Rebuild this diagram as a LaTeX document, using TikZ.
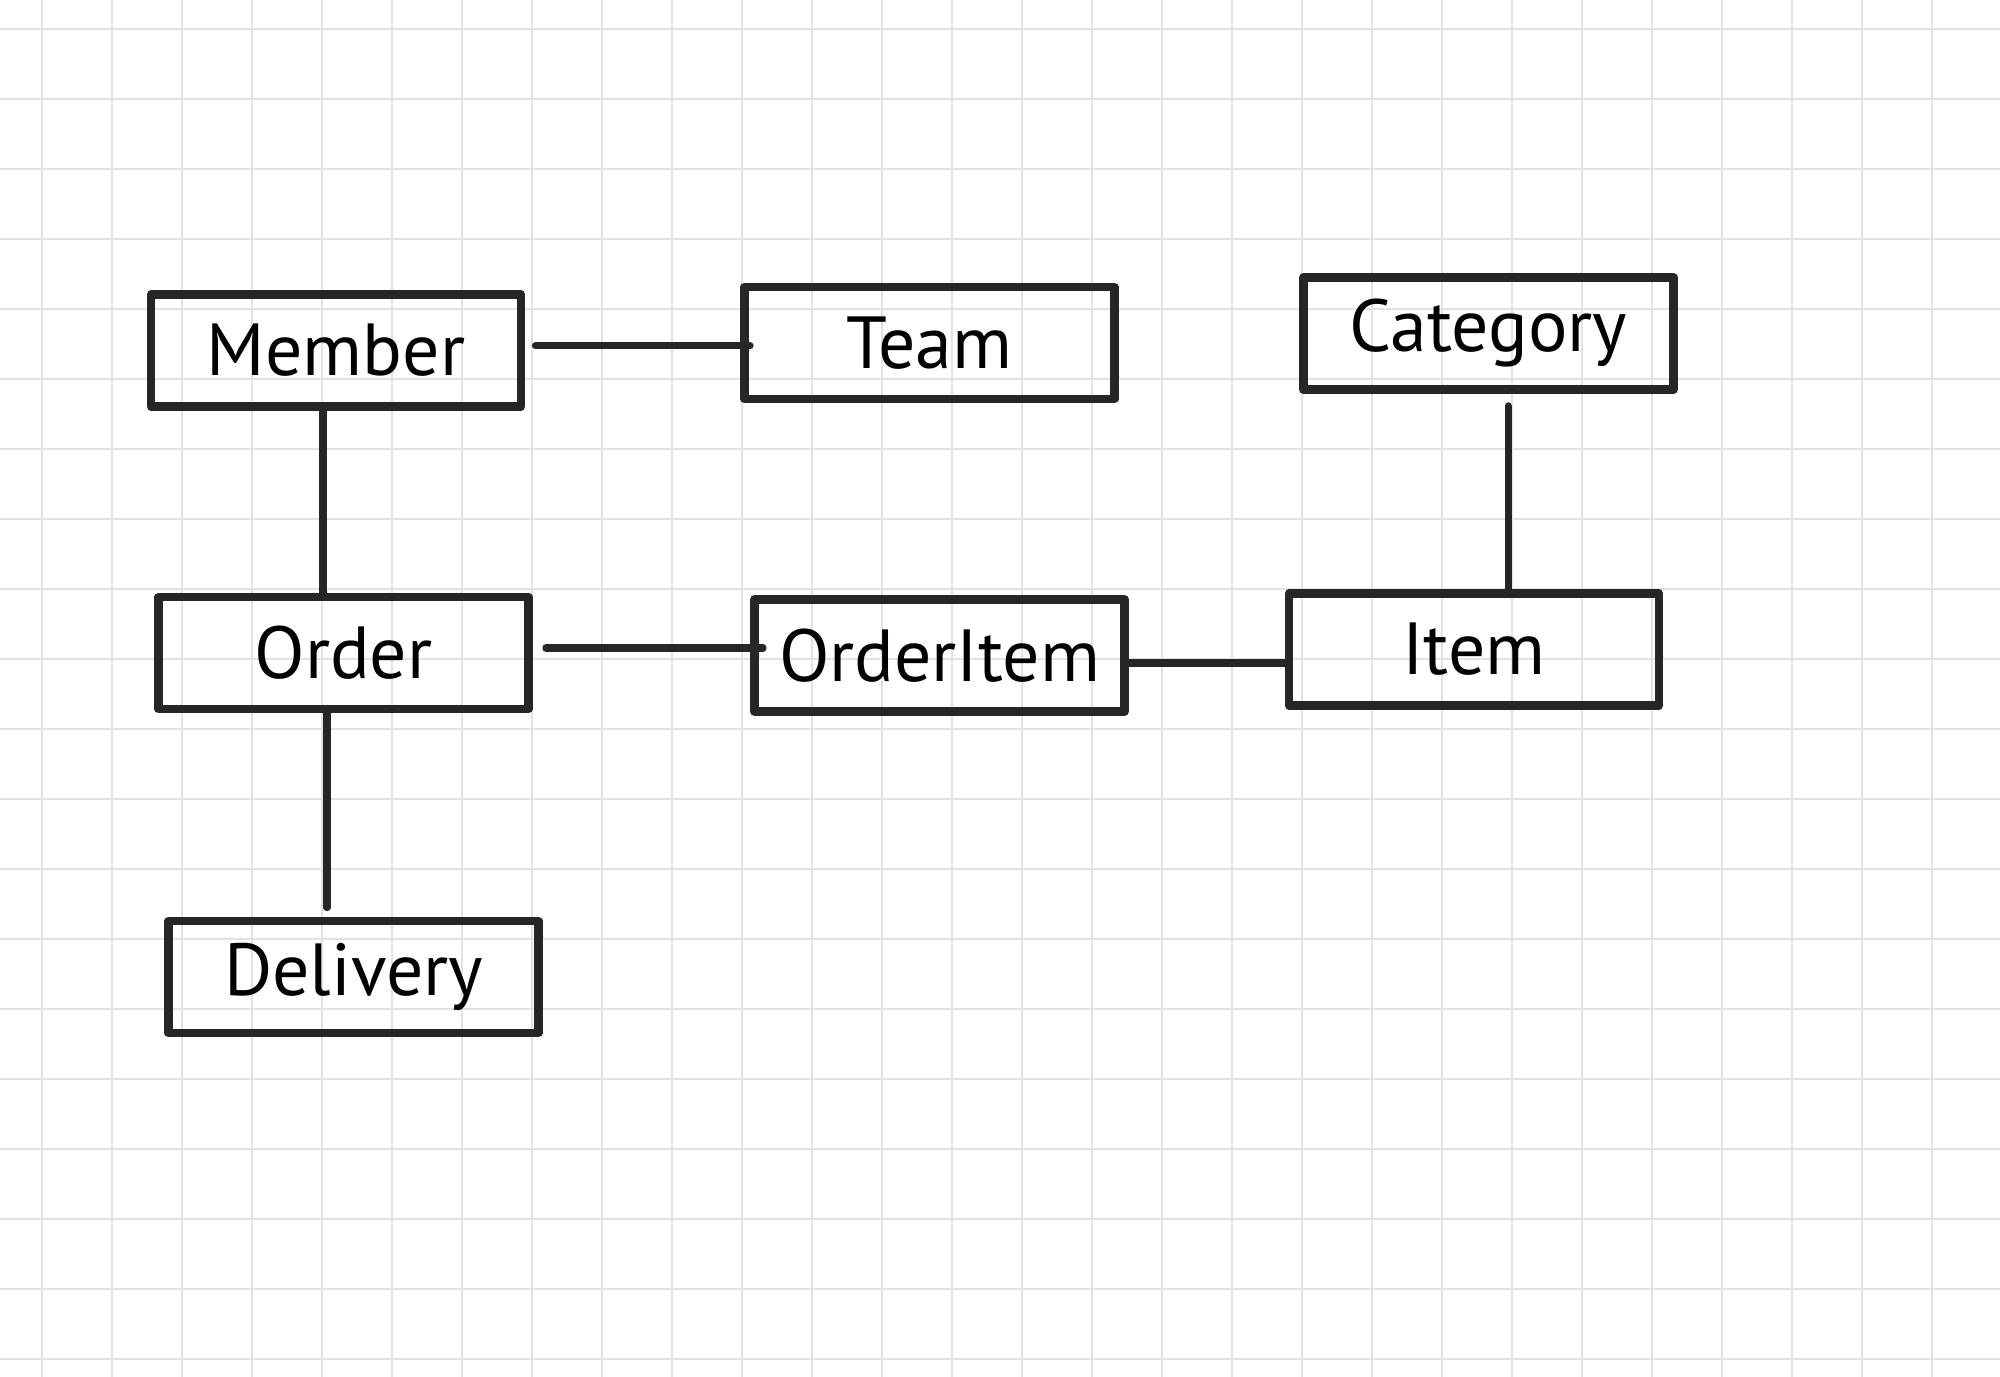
\documentclass[tikz,border=0pt]{standalone}
\usepackage{fontspec}
\setmainfont{PT Sans}
\definecolor{ink}{HTML}{262626}
\definecolor{gridline}{HTML}{E2E2E2}
\begin{document}
\begin{tikzpicture}[line cap=round,line join=round,x=1.0cm,y=1.0cm,
	entity/.style={draw=ink,line width=2.5pt,minimum width=3.70cm,minimum height=1.12cm,inner sep=0pt,font=\fontsize{21}{25}\selectfont},
	link/.style={draw=ink,line width=2pt}]
	
	\useasboundingbox (0,0) rectangle (20,13.77);
	\fill[white] (0,0) rectangle (20,13.77);
	\foreach \i in {0,...,27} \draw[gridline,line width=0.6pt] ({0.417+0.7*\i},0) -- ++(0,13.77);
	\foreach \j in {0,...,19} \draw[gridline,line width=0.6pt] (0,{13.477-0.7*\j}) -- ++(20,0);
	
	\node[entity] (member) at (3.36,10.265) {Member};
	\node[entity] (team) at (9.295,10.34) {Team};
	\node[entity] (category) at (14.885,10.435) {Category};
	\node[entity] (order) at (3.435,7.24) {Order};
	\node[entity] (orderitem) at (9.395,7.215) {OrderItem};
	\node[entity] (item) at (14.74,7.275) {Item};
	\node[entity] (delivery) at (3.535,4.0) {Delivery};
	
	\draw[link] ([shift={(1mm,0.45mm)}]member.east) -- ([shift={(1mm,0.45mm)}]member.east -| team.west);
	\draw[link] ([xshift=-1.3mm]member.south) -- ([xshift=-1.3mm]member.south |- order.north);
	\draw[link,shorten >=0.9mm] ([xshift=-1.65mm]order.south) -- ([xshift=-1.65mm]order.south |- delivery.north);
	\draw[link] ([shift={(1.3mm,0.5mm)}]order.east) -- ([shift={(1.3mm,0.5mm)}]order.east -| orderitem.west);
	\draw[link] ([yshift=-0.75mm]orderitem.east) -- ([yshift=-0.75mm]orderitem.east -| item.west);
	\draw[link,shorten <=1.2mm] ([xshift=1.95mm]category.south) -- ([xshift=1.95mm]category.south |- item.north);
\end{tikzpicture}
\end{document}
